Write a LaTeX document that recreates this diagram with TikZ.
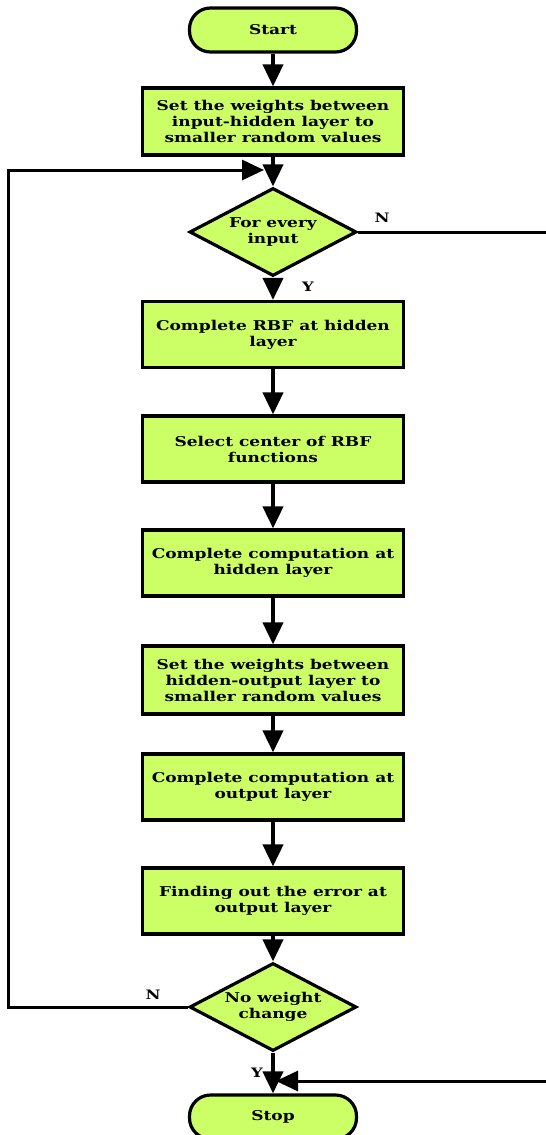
\documentclass[tikz,border=0pt]{standalone}
\usepackage{fontspec}
\setmainfont{DejaVu Serif}[FakeStretch=1.26]
\usetikzlibrary{shapes.geometric,arrows.meta}
\definecolor{boxgreen}{RGB}{204,255,102}
\tikzset{
  every node/.style={font=\bfseries\fontsize{13.5}{16}\selectfont},
  procbox/.style={draw, line width=3.2pt, fill=boxgreen, minimum width=261pt, minimum height=66pt, align=center, inner sep=0pt},
  termbox/.style={draw, line width=3.2pt, fill=boxgreen, rounded corners=21pt, minimum width=167pt, minimum height=44pt, inner sep=0pt},
  decbox/.style={draw, line width=3.2pt, fill=boxgreen, diamond, aspect=1.9, minimum width=167pt, minimum height=88pt, inner sep=0pt, align=center},
  flow/.style={line width=4pt, -{Triangle[length=22pt,width=20pt]}},
  loopline/.style={line width=3pt},
  looparrow/.style={line width=3pt, -{Triangle[length=22pt,width=20pt]}},
  lbl/.style={font=\bfseries\fontsize{13}{14}\selectfont, inner sep=0pt}
}
\begin{document}
\begin{tikzpicture}[x=1pt,y=-1pt]
\useasboundingbox (0,0) rectangle (546,1135);
\node[termbox] (start) at (273,30) {Start};
\node[procbox, minimum height=67pt] (b1) at (273,121.5) {Set the weights between\\input-hidden layer to\\smaller random values};
\node[decbox] (d1) at (273,232) {For every\\input};
\node[procbox] (b2) at (273,334.5) {Complete RBF at hidden\\layer};
\node[procbox] (b3) at (273,449) {Select center of RBF\\functions};
\node[procbox] (b4) at (273,563) {Complete computation at\\hidden layer};
\node[procbox, minimum height=68pt] (b5) at (273,680) {Set the weights between\\hidden-output layer to\\smaller random values};
\node[procbox] (b6) at (273,787) {Complete computation at\\output layer};
\node[procbox] (b7) at (273,901) {Finding out the error at\\output layer};
\node[decbox] (d2) at (273,1007) {No weight\\change};
\node[termbox] (stop) at (273,1117) {Stop};

\coordinate (loopL) at (8,1007);
\coordinate (loopT) at (8,170);
\coordinate (join) at (264,170);
\coordinate (rtop) at (546,232);
\coordinate (rbot) at (546,1081);
\coordinate (rend) at (276,1081);

\draw[flow] (start) -- (b1);
\draw[flow] (b1) -- (d1);
\draw[flow] (d1) -- (b2);
\draw[flow] (b2) -- (b3);
\draw[flow] (b3) -- (b4);
\draw[flow] (b4) -- (b5);
\draw[flow] (b5) -- (b6);
\draw[flow] (b6) -- (b7);
\draw[flow] (b7) -- (d2);
\draw[flow] (d2) -- (stop);

\draw[looparrow] (d2.west) -- (loopL) -- (loopT) -- (join);
\draw[loopline] (d1.east) -- (rtop);
\draw[looparrow] (rbot) -- (rend);

\node[lbl] (n1) at (382,218) {N};
\node[lbl] (y1) at (308,287) {Y};
\node[lbl] (n2) at (153,995) {N};
\node[lbl] (y2) at (257,1073) {Y};
\end{tikzpicture}
\end{document}
